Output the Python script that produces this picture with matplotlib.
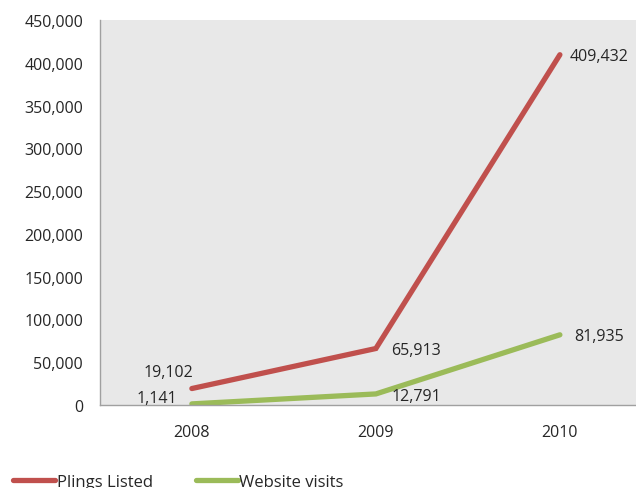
import matplotlib

matplotlib.use("Agg")
import matplotlib.pyplot as plt
from matplotlib.ticker import FuncFormatter

plt.rcParams["font.family"] = ["Open Sans", "DejaVu Sans"]

years = ["2008", "2009", "2010"]
plings_listed = [19102, 65913, 409432]
website_visits = [1141, 12791, 81935]

# label offsets (points) for each data label
plings_offsets = [(-17, 12), (29, -1), (28, -1)]
visits_offsets = [(-25, 4), (29, -1.5), (28, -1)]

RED = "#c0504d"
GREEN = "#9bbb59"
TEXT = "#262626"

fig = plt.figure(figsize=(6.36, 4.89), dpi=100)
ax = fig.add_axes([0.157, 0.170, 0.868, 0.787])
ax.set_facecolor("#e8e8e8")

x = range(len(years))
ax.plot(x, plings_listed, color=RED, linewidth=3.8, label="Plings Listed",
        solid_capstyle="round", solid_joinstyle="miter")
ax.plot(x, website_visits, color=GREEN, linewidth=3.8, label="Website visits",
        solid_capstyle="round", solid_joinstyle="miter")

for xi, v, off in zip(x, plings_listed, plings_offsets):
    ax.annotate(f"{v:,}", (xi, v), xytext=off, textcoords="offset points",
                ha="center", va="center", fontsize=11.5, color=TEXT)
for xi, v, off in zip(x, website_visits, visits_offsets):
    ax.annotate(f"{v:,}", (xi, v), xytext=off, textcoords="offset points",
                ha="center", va="center", fontsize=11.5, color=TEXT)

ax.set_xlim(-0.5, 2.5)
ax.set_ylim(0, 450000)
ax.set_yticks(range(0, 450001, 50000))
ax.yaxis.set_major_formatter(FuncFormatter(lambda v, _: f"{int(v):,}"))
ax.set_xticks(list(x))
ax.set_xticklabels(years)
ax.tick_params(axis="y", length=0, pad=12, labelsize=11.5, labelcolor=TEXT)
ax.tick_params(axis="x", length=0, pad=14, labelsize=11.5, labelcolor=TEXT)

for side in ["top", "right"]:
    ax.spines[side].set_visible(False)
for side in ["left", "bottom"]:
    ax.spines[side].set_color("#a0a0a0")
    ax.spines[side].set_linewidth(1)

fig.legend(loc="center left", bbox_to_anchor=(0.021, 0.012), ncol=2,
           frameon=False, fontsize=12, handlelength=2.5, handletextpad=0.1,
           columnspacing=2.6, borderaxespad=0, borderpad=0)
for t in fig.legends[0].get_texts():
    t.set_color(TEXT)

fig.savefig("out.png", dpi=100)
